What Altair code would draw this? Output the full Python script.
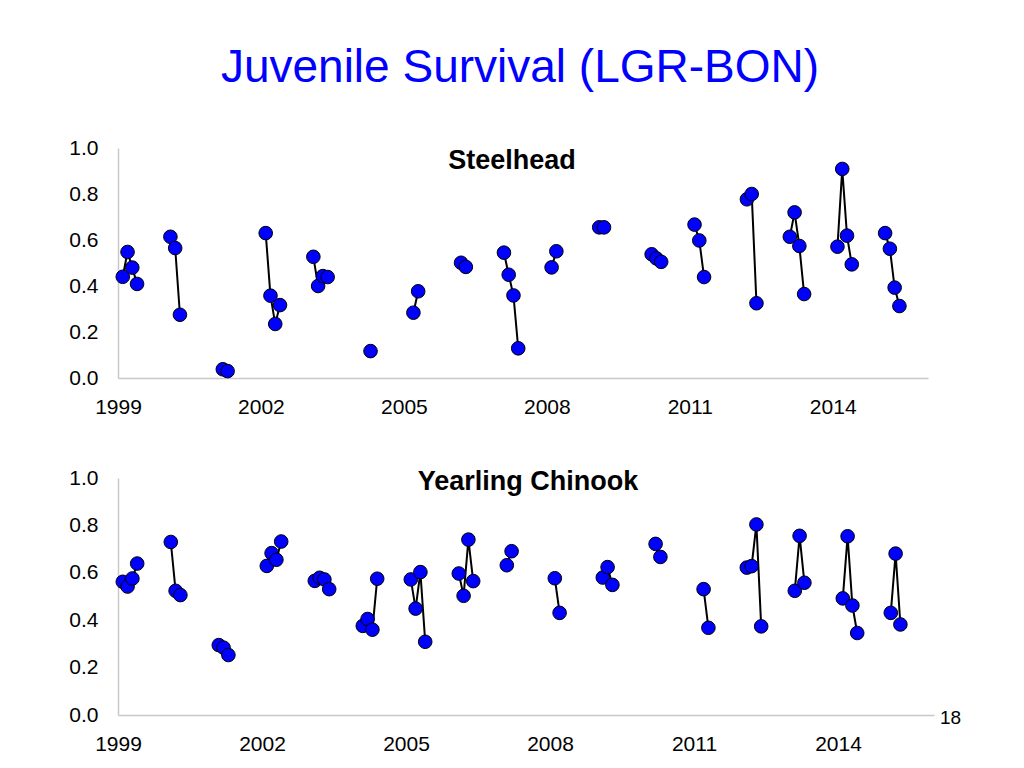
import altair as alt
import pandas as pd

# Steelhead: release-group position (year + fraction) and survival
sh_x = [1999.1, 1999.2, 1999.3, 1999.4,
        2000.1, 2000.2, 2000.3,
        2001.2, 2001.3,
        2002.1, 2002.2, 2002.3, 2002.4,
        2003.1, 2003.2, 2003.3, 2003.4,
        2004.3,
        2005.2, 2005.3,
        2006.2, 2006.3,
        2007.1, 2007.2, 2007.3, 2007.4,
        2008.1, 2008.2,
        2009.1, 2009.2,
        2010.2, 2010.3, 2010.4,
        2011.1, 2011.2, 2011.3,
        2012.2, 2012.3, 2012.4,
        2013.1, 2013.2, 2013.3, 2013.4,
        2014.1, 2014.2, 2014.3, 2014.4,
        2015.1, 2015.2, 2015.3, 2015.4]
sh_y = [0.44, 0.548, 0.48, 0.409,
        0.614, 0.565, 0.275,
        0.038, 0.030,
        0.630, 0.358, 0.235, 0.317,
        0.527, 0.400, 0.443, 0.439,
        0.117,
        0.284, 0.377,
        0.501, 0.483,
        0.545, 0.449, 0.359, 0.129,
        0.481, 0.551,
        0.655, 0.655,
        0.538, 0.520, 0.505,
        0.667, 0.598, 0.439,
        0.777, 0.800, 0.325,
        0.614, 0.720, 0.574, 0.365,
        0.571, 0.909, 0.619, 0.494,
        0.630, 0.562, 0.393, 0.313]

# Yearling Chinook
ch_x = [1999.1, 1999.2, 1999.3, 1999.4,
        2000.1, 2000.2, 2000.3,
        2001.1, 2001.2, 2001.3,
        2002.1, 2002.2, 2002.3, 2002.4,
        2003.1, 2003.2, 2003.3, 2003.4,
        2004.1, 2004.2, 2004.3, 2004.4,
        2005.1, 2005.2, 2005.3, 2005.4,
        2006.1, 2006.2, 2006.3, 2006.4,
        2007.1, 2007.2,
        2008.1, 2008.2,
        2009.1, 2009.2, 2009.3,
        2010.2, 2010.3,
        2011.2, 2011.3,
        2012.1, 2012.2, 2012.3, 2012.4,
        2013.1, 2013.2, 2013.3,
        2014.1, 2014.2, 2014.3, 2014.4,
        2015.1, 2015.2, 2015.3]
ch_y = [0.562, 0.542, 0.576, 0.639,
        0.730, 0.524, 0.506,
        0.295, 0.284, 0.253,
        0.629, 0.683, 0.655, 0.732,
        0.566, 0.579, 0.572, 0.531,
        0.376, 0.405, 0.360, 0.575,
        0.572, 0.449, 0.603, 0.309,
        0.597, 0.503, 0.740, 0.565,
        0.632, 0.691,
        0.577, 0.431,
        0.580, 0.624, 0.549,
        0.722, 0.667,
        0.531, 0.368,
        0.622, 0.628, 0.804, 0.374,
        0.524, 0.756, 0.558,
        0.492, 0.754, 0.462, 0.346,
        0.431, 0.681, 0.382]

x_ticks = [1999, 2002, 2005, 2008, 2011, 2014]
y_ticks = [0.0, 0.2, 0.4, 0.6, 0.8, 1.0]
page_number = "18"

FONT = "Liberation Sans"


def frame(xs, ys):
    return pd.DataFrame({"x": xs, "y": ys, "year": [int(v) for v in xs]})


def panel(df, title, w, h, dx, toff):
    xax = alt.Axis(values=x_ticks, format="d", ticks=False, grid=False,
                   domainColor="#c8c8c8", domainWidth=1.5, labelFont=FONT,
                   labelFontSize=21, labelColor="black", labelPadding=18,
                   labelFlush=False, labelOverlap=False, title=None)
    yax = alt.Axis(values=y_ticks, format=".1f", ticks=False, grid=False,
                   domainColor="#c8c8c8", domainWidth=1.5, labelFont=FONT,
                   labelFontSize=21, labelColor="black", labelPadding=20,
                   labelFlush=False, title=None)
    xs = alt.X("x:Q", scale=alt.Scale(domain=[1999, 2016], nice=False), axis=xax)
    ys = alt.Y("y:Q", scale=alt.Scale(domain=[0, 1], nice=False), axis=yax)
    base = alt.Chart(df)
    lines = base.mark_line(color="black", strokeWidth=2).encode(
        x=xs, y=ys, detail="year:N", order="x:Q")
    pts = base.mark_circle(size=185, color="#0000ff", opacity=1,
                           stroke="black", strokeWidth=1).encode(x=xs, y=ys)
    return alt.layer(lines, pts).properties(
        width=w, height=h,
        title=alt.TitleParams(title, font=FONT, fontSize=27, fontWeight="bold",
                              color="black", anchor="middle", offset=toff, dx=dx))


top = panel(frame(sh_x, sh_y), "Steelhead", 810, 230, -11, -38)

bottom_base = panel(frame(ch_x, ch_y), "Yearling Chinook", 816, 237, 2, -29)
pn = alt.Chart(pd.DataFrame({"t": [page_number]})).mark_text(
    font=FONT, fontSize=19, align="left", baseline="alphabetic", color="black"
).encode(text="t:N", x=alt.value(822), y=alt.value(246))
bottom = alt.layer(bottom_base, pn)

chart = alt.vconcat(top, bottom, spacing=50).properties(
    title=alt.TitleParams("Juvenile Survival (LGR-BON)", font=FONT, fontSize=46,
                          color="#0000ff", fontWeight="normal", anchor="middle",
                          offset=45, dx=5),
    padding={"left": 60, "top": 37, "right": 10, "bottom": 5},
    background="white",
).configure_view(strokeWidth=0, stroke=None)

chart.save("out.html", embed_options={"renderer": "svg", "actions": False})
